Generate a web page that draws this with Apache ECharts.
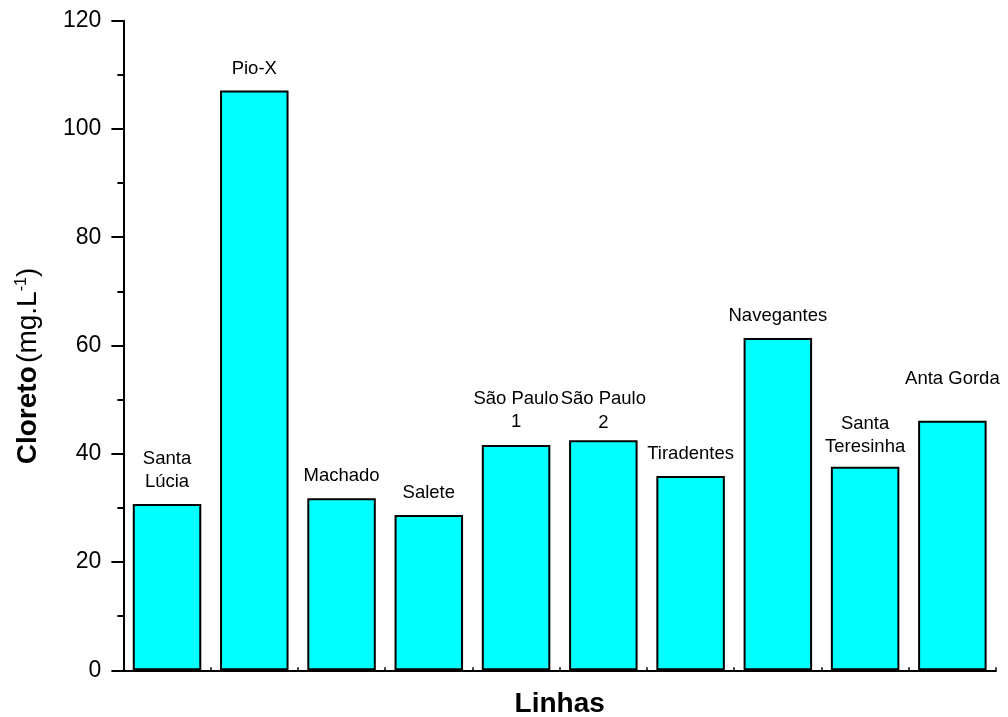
<!DOCTYPE html>
<html>
<head>
<meta charset="utf-8">
<script src="https://cdn.jsdelivr.net/npm/echarts@6/dist/echarts.min.js"></script>
<style>
  html, body { margin: 0; padding: 0; background: #ffffff; }
  #chart { width: 1008px; height: 717px; }
</style>
</head>
<body>
<div id="chart"></div>
<script>
// Chloride concentration per line (mg/L)
const linhas = ['Santa\nLúcia', 'Pio-X', 'Machado', 'Salete', 'São Paulo\n1', 'São Paulo\n2',
                'Tiradentes', 'Navegantes', 'Santa\nTeresinha', 'Anta Gorda'];
const cloreto = [30.7, 107.1, 31.8, 28.7, 41.6, 42.5, 35.9, 61.4, 37.6, 46.1];
const yTicks = [0, 20, 40, 60, 80, 100, 120];

const FONT = '"Liberation Sans", Arial, sans-serif';

// extra spacing above a few bars so the annotations sit where they belong
const labelGap = { 'São Paulo\n1': 11, 'São Paulo\n2': 6, 'Santa\nTeresinha': 8, 'Anta Gorda': 30 };

const chart = echarts.init(document.getElementById('chart'), null, { renderer: 'canvas' });

const barData = cloreto.map((v, i) => ({
  value: v,
  name: linhas[i],
  label: { distance: labelGap[linhas[i]] !== undefined ? labelGap[linhas[i]] : 10 }
}));

chart.setOption({
  animation: false,
  backgroundColor: '#ffffff',
  grid: { left: 123.4, right: 12, top: 20.7, bottom: 46.7, containLabel: false, outerBoundsMode: 'none' },
  xAxis: [
    {
      type: 'category',
      data: linhas,
      name: 'Linhas',
      nameLocation: 'middle',
      nameGap: 20,
      nameTextStyle: { fontFamily: FONT, fontSize: 28, fontWeight: 'bold', color: '#000', verticalAlign: 'top' },
      axisLine: { show: true, lineStyle: { color: '#000', width: 2 } },
      axisTick: { show: true, inside: true, length: 3, lineStyle: { color: '#000', width: 1.5 } },
      axisLabel: { show: false },
      splitLine: { show: false }
    },
    {
      // centre ticks under each bar
      type: 'category',
      data: linhas,
      position: 'bottom',
      axisLine: { show: false },
      axisTick: { show: true, inside: true, alignWithLabel: true, length: 3, lineStyle: { color: '#000', width: 1.5 } },
      axisLabel: { show: false },
      splitLine: { show: false }
    }
  ],
  yAxis: {
    type: 'value',
    min: yTicks[0],
    max: yTicks[yTicks.length - 1],
    interval: 20,
    axisLine: { show: true, lineStyle: { color: '#000', width: 2 } },
    axisTick: { show: true, length: 12, lineStyle: { color: '#000', width: 2 } },
    minorTick: { show: true, splitNumber: 2, length: 6, lineStyle: { color: '#000', width: 2 } },
    axisLabel: { margin: 22, fontFamily: FONT, fontSize: 23, color: '#000' },
    splitLine: { show: false },
    minorSplitLine: { show: false }
  },
  // vertical axis title, with bold quantity and superscript unit exponent
  graphic: [{
    type: 'text',
    x: 28,
    y: 366,
    rotation: Math.PI / 2,
    style: {
      text: '{b|Cloreto} {n|(mg.L}{s|-1}{n|)}',
      align: 'center',
      verticalAlign: 'middle',
      rich: {
        b: { fontFamily: FONT, fontSize: 28, fontWeight: 'bold', fill: '#000' },
        n: { fontFamily: FONT, fontSize: 28, fill: '#000' },
        s: { fontFamily: FONT, fontSize: 16, fill: '#000', verticalAlign: 'top', padding: [0, 0, 12, 0] }
      }
    }
  }],
  series: [{
    type: 'bar',
    xAxisIndex: 0,
    data: barData,
    barWidth: 68.5,
    itemStyle: { color: '#00ffff', borderColor: '#000', borderWidth: 2 },
    label: {
      show: true,
      position: 'top',
      formatter: p => p.name,
      fontFamily: FONT,
      fontSize: 18.5,
      lineHeight: 23.5,
      color: '#000',
      align: 'center'
    }
  }]
});
</script>
</body>
</html>
